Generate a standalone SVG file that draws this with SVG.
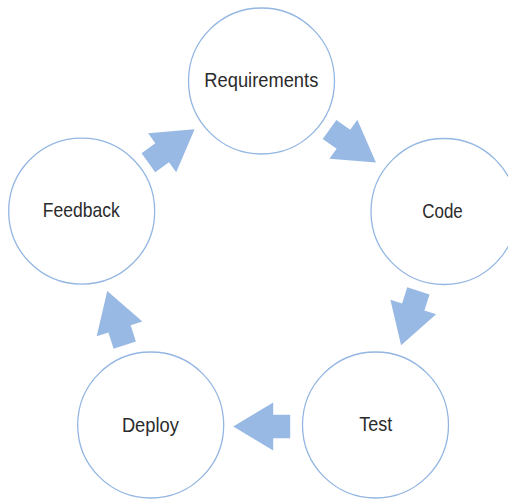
<svg xmlns="http://www.w3.org/2000/svg" xmlns:xlink="http://www.w3.org/1999/xlink" width="508" height="500" viewBox="0 0 508 500">
  <style>
    .node { fill: #ffffff; stroke: #93b6e2; stroke-width: 1.3; }
    .label { font-family: "Liberation Sans", Arial, sans-serif; font-size: 21px; fill: #2b2b2b; text-anchor: middle; }
    .arrow { fill: #98b9e3; }
  </style>
  <defs>
    <path id="blockArrow" d="M-28.5,-11.7 L-11.5,-11.7 L-11.5,-24 L28.5,0 L-11.5,24 L-11.5,11.7 L-28.5,11.7 Z"/>
  </defs>
  <rect width="508" height="500" fill="#ffffff"/>
  <g id="connectors" class="arrow">
    <use xlink:href="#blockArrow" href="#blockArrow" transform="translate(352.75,146) rotate(35.5)"/>
    <use xlink:href="#blockArrow" href="#blockArrow" transform="translate(409.75,318) rotate(107.7)"/>
    <use xlink:href="#blockArrow" href="#blockArrow" transform="translate(261.7,426.5) rotate(180)"/>
    <use xlink:href="#blockArrow" href="#blockArrow" transform="translate(116,318) rotate(-107.9)"/>
    <use xlink:href="#blockArrow" href="#blockArrow" transform="translate(171.5,146) rotate(-35.8)"/>
  </g>
  <g id="requirements">
    <circle class="node" cx="261.5" cy="81" r="73"/>
    <text class="label" x="261.3" y="87" textLength="114" lengthAdjust="spacingAndGlyphs">Requirements</text>
  </g>
  <g id="code">
    <circle class="node" cx="444" cy="211.5" r="73"/>
    <text class="label" x="442.5" y="217.7" textLength="40.5" lengthAdjust="spacingAndGlyphs">Code</text>
  </g>
  <g id="test">
    <circle class="node" cx="375.5" cy="425" r="73"/>
    <text class="label" x="375.7" y="431.2" textLength="33" lengthAdjust="spacingAndGlyphs">Test</text>
  </g>
  <g id="deploy">
    <circle class="node" cx="150.7" cy="425" r="73"/>
    <text class="label" x="150.4" y="431.5" textLength="57" lengthAdjust="spacingAndGlyphs">Deploy</text>
  </g>
  <g id="feedback">
    <circle class="node" cx="81.7" cy="211.2" r="73"/>
    <text class="label" x="81.3" y="217.3" textLength="77" lengthAdjust="spacingAndGlyphs">Feedback</text>
  </g>
</svg>
